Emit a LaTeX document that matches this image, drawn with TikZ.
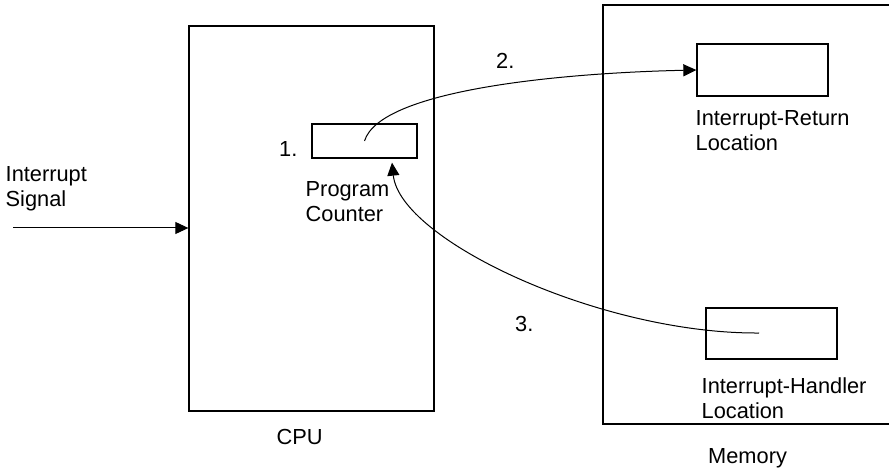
\documentclass[tikz,border=0pt]{standalone}
\usepackage{fontspec}
\setmainfont{Liberation Sans}
\usetikzlibrary{arrows.meta,positioning}
\tikzstyle{unit}=[draw,line width=1.3pt,inner sep=0pt]
\tikzstyle{cell}=[draw,line width=1.3pt,inner sep=0pt,minimum width=131pt]
\tikzstyle{txt}=[anchor=base west,inner sep=0pt,align=left]
\tikzstyle{flow}=[draw,line width=1pt,-{Triangle[length=13pt,width=12pt]}]

\begin{document}
\begin{tikzpicture}[x=1pt,y=-1pt,font=\fontsize{21.8}{25}\selectfont]
\useasboundingbox (0,0) rectangle (889,470);

% First we draw the boxes
\node[unit,minimum width=245pt,minimum height=385pt] (cpu) at (311.5,218.5) {};
\node[unit,minimum width=297pt,minimum height=419pt] (mem) at (751.5,214.5) {};
\node[unit,minimum width=105pt,minimum height=34pt] (pc) at (364.5,141) {};
\node[cell,minimum height=52pt] (ret) at (762.5,70) {};
\node[cell,minimum height=51pt] (hdl) at (771.5,333.5) {};

% Then the texts (base is the last line)
\node[txt] (sigtxt) at (5.5,207) {Interrupt\\Signal};
\node[txt] (one) at (279,157) {1.};
\node[txt] (pctxt) at (305.5,222) {Program\\Counter};
\node[txt] (two) at (496,69) {2.};
\node[txt] (three) at (515,332) {3.};
\node[txt] (rettxt) at (695.5,151) {Interrupt-Return\\Location};
\node[txt] (hdltxt) at (701.5,418) {Interrupt-Handler\\Location};
\node[txt] (cputxt) at (276.5,444) {CPU};
\node[txt] (memtxt) at (708,463) {Memory};

% Connect boxes with arrows
\coordinate (sig) at (13,228);
\coordinate (hdlstart) at (759,333);
\path[flow] (sig) -- (sig -| cpu.west);
\path[flow] (pc.center) .. controls (380,90) and (560,73) .. (ret.west);
\path[flow] (hdlstart) .. controls (600,334) and (400,240) .. ([xshift=27.5pt,yshift=-4pt]pc.south);

\end{tikzpicture}
\end{document}
